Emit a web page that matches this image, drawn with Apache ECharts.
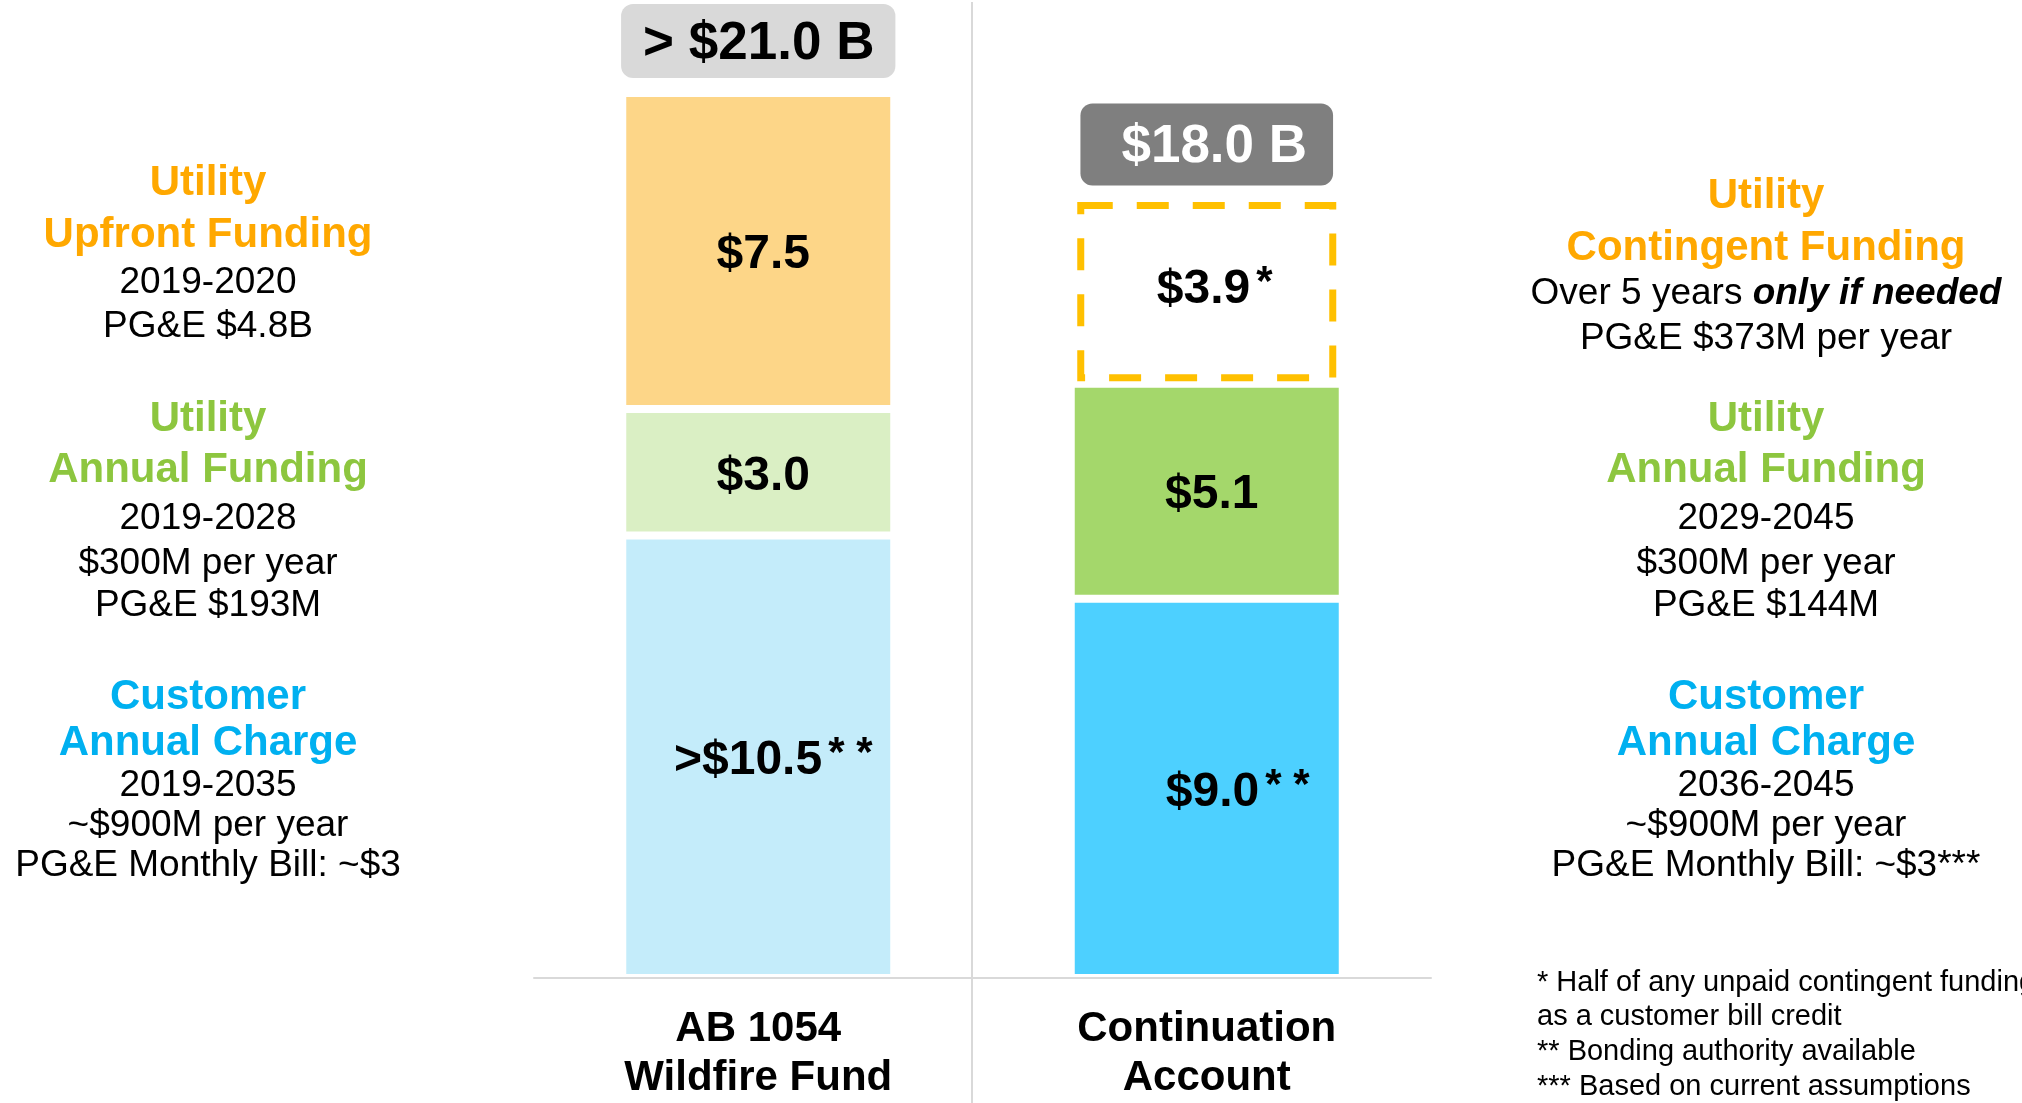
<!DOCTYPE html>
<html>
<head>
<meta charset="utf-8">
<script src="https://cdn.jsdelivr.net/npm/echarts@6/dist/echarts.min.js"></script>
<style>
  html, body { margin: 0; padding: 0; background: #fff; }
  #main { width: 2022px; height: 1103px; }
</style>
</head>
<body>
<div id="main"></div>
<script>
// data, $ billions
var categories = ['AB 1054\nWildfire Fund', 'Continuation\nAccount'];
var customerCharge = [10.5, 9.0];
var utilityAnnual = [3.0, 5.1];
var utilityUpfront = [7.5, '-'];
var utilityContingent = ['-', 3.9];
var totalLabels = ['> $21.0 B', '$18.0 B'];
var customerLabels = ['>$10.5', '$9.0'];
var annualLabels = ['$3.0', '$5.1'];
var upfrontLabels = ['$7.5', ''];
var contingentLabels = ['', '$3.9'];

// side notes
var leftLines = ['Utility', 'Upfront Funding', '2019-2020', 'PG&E $4.8B',
  'Utility', 'Annual Funding', '2019-2028', '$300M per year', 'PG&E $193M',
  'Customer', 'Annual Charge', '2019-2035', '~$900M per year', 'PG&E Monthly Bill: ~$3'];
var rightLines = ['Utility', 'Contingent Funding', '{n|Over 5 years }{b|only if needed}', 'PG&E $373M per year',
  'Utility', 'Annual Funding', '2029-2045', '$300M per year', 'PG&E $144M',
  'Customer', 'Annual Charge', '2036-2045', '~$900M per year', 'PG&E Monthly Bill: ~$3***'];
var footnotes = ['* Half of any unpaid contingent funding', 'as a customer bill credit',
  '** Bonding authority available', '*** Based on current assumptions'];

// layout / style
var FONT = '"Liberation Sans", Arial, sans-serif';
var ORANGE = '#FFA800', GREEN = '#8DC63F', BLUE = '#00B0F0';
var lineKinds = ['o', 'o', 'n', 'n', 'g', 'g', 'n', 'n', 'n', 'b', 'b', 'n', 'n', 'n'];
var leftY = [183, 235, 283, 327, 419, 470, 519, 564, 606, 697, 743, 786, 826, 866];
var rightY = [196, 248, 294, 339, 419, 470, 519, 564, 606, 697, 743, 786, 826, 866];
var footY = [983, 1017, 1052, 1087];
var colCustomer = ['#C4ECFA', '#4DD0FF'];
var colAnnual = ['#DAEFC4', '#A4D76B'];
var colUpfront = '#FDD688';
var BAR_W = 272;

var chart = echarts.init(document.getElementById('main'));

function sideText(lines, ys, cx) {
  return lines.map(function (t, i) {
    var k = lineKinds[i];
    var head = k !== 'n';
    var fill = k === 'o' ? ORANGE : k === 'g' ? GREEN : k === 'b' ? BLUE : '#000';
    return {
      type: 'text', x: cx, y: ys[i], silent: true,
      style: {
        text: t, fill: fill,
        font: (head ? 'bold 42px ' : '37px ') + FONT,
        align: 'center', verticalAlign: 'middle',
        textAlign: 'center', textVerticalAlign: 'middle',
        rich: {
          n: { fontSize: 37, fontFamily: FONT, color: '#000' },
          b: { fontSize: 37, fontFamily: FONT, color: '#000', fontWeight: 'bold', fontStyle: 'italic' }
        }
      }
    };
  });
}

var graphics = [{
  type: 'line', silent: true, z: 0,
  shape: { x1: 972, y1: 2, x2: 972, y2: 1103 },
  style: { stroke: '#D9D9D9', lineWidth: 2 }
}];
graphics = graphics.concat(sideText(leftLines, leftY, 208), sideText(rightLines, rightY, 1766));
footnotes.forEach(function (t, i) {
  graphics.push({
    type: 'text', x: 1537, y: footY[i], silent: true,
    style: { text: t, fill: '#000', font: '29px ' + FONT,
      align: 'left', verticalAlign: 'middle', textAlign: 'left', textVerticalAlign: 'middle' }
  });
});

var valueRich = {
  v: { fontSize: 48, fontWeight: 'bold', fontFamily: FONT, color: '#000' },
  s: { fontSize: 42, fontWeight: 'bold', fontFamily: FONT, color: '#000', padding: [0, 0, 12, 6] }
};
var segBorder = { borderColor: '#fff', borderWidth: 4 };

function segLabel(texts, marks) {
  return {
    show: true, position: 'inside', rich: valueRich, offset: [5, 4],
    formatter: function (p) {
      return '{v|' + texts[p.dataIndex] + '}' + (marks ? '{s|' + marks + '}' : '');
    }
  };
}

var contBase = customerCharge[1] + utilityAnnual[1];

var option = {
  animation: false,
  backgroundColor: '#fff',
  grid: { left: 534, right: 591, top: 93, bottom: 123 },
  xAxis: {
    type: 'category', data: categories, z: 5,
    axisLine: { lineStyle: { color: '#D9D9D9', width: 2 } },
    axisTick: { show: false },
    axisLabel: { fontSize: 42, fontWeight: 'bold', fontFamily: FONT, color: '#000', lineHeight: 49, margin: 27 },
    splitLine: { show: false }
  },
  yAxis: { type: 'value', min: 0, max: 21, show: false },
  graphic: graphics,
  series: [
    {
      name: 'Customer Annual Charge', type: 'bar', stack: 'fund', barWidth: BAR_W,
      data: customerCharge.map(function (v, i) {
        return { value: v, itemStyle: { color: colCustomer[i] }, label: { offset: [[15, 4], [31, 4]][i] } };
      }),
      itemStyle: segBorder,
      label: segLabel(customerLabels, '* *')
    },
    {
      name: 'Utility Annual Funding', type: 'bar', stack: 'fund',
      data: utilityAnnual.map(function (v, i) {
        return { value: v, itemStyle: { color: colAnnual[i] } };
      }),
      itemStyle: segBorder,
      label: segLabel(annualLabels)
    },
    {
      name: 'Utility Upfront Funding', type: 'bar', stack: 'fund',
      data: utilityUpfront,
      itemStyle: { color: colUpfront, borderColor: '#fff', borderWidth: 4 },
      label: segLabel(upfrontLabels)
    },
    {
      name: 'Utility Contingent Funding', type: 'bar', stack: 'fund',
      data: utilityContingent.map(function (v) {
        return { value: v, label: { offset: [8, -12] } };
      }),
      itemStyle: { color: 'rgba(0,0,0,0)', borderWidth: 0 },
      label: segLabel(contingentLabels, '*')
    },
    {
      name: 'Total', type: 'bar', stack: 'fund',
      itemStyle: { color: 'rgba(0,0,0,0)', borderWidth: 0 },
      data: [
        { value: 0, label: { distance: 15, backgroundColor: '#D9D9D9', color: '#000', padding: [15, 21, 9, 22] } },
        { value: 0, label: { distance: 34, backgroundColor: '#7F7F7F', color: '#fff', padding: [19, 26, 13, 41] } }
      ],
      label: {
        show: true, position: 'top', fontSize: 53, fontWeight: 'bold', fontFamily: FONT,
        lineHeight: 50, borderRadius: 12,
        formatter: function (p) { return totalLabels[p.dataIndex]; }
      }
    },
    {
      name: 'Contingent outline', type: 'custom', z: 4, silent: true,
      data: [[1, contBase, contBase + utilityContingent[1]]],
      encode: { x: 0, y: [1, 2] },
      renderItem: function (params, api) {
        var lo = api.coord([api.value(0), api.value(1)]);
        var hi = api.coord([api.value(0), api.value(2)]);
        var half = BAR_W / 2 - 10;
        var top = hi[1] - 14, bottom = lo[1] - 6;
        return {
          type: 'rect',
          shape: { x: lo[0] - half, y: top, width: half * 2, height: bottom - top },
          style: { fill: 'none', stroke: '#FFC000', lineWidth: 7, lineDash: [32, 24] }
        };
      }
    }
  ]
};
chart.setOption(option);
</script>
</body>
</html>
